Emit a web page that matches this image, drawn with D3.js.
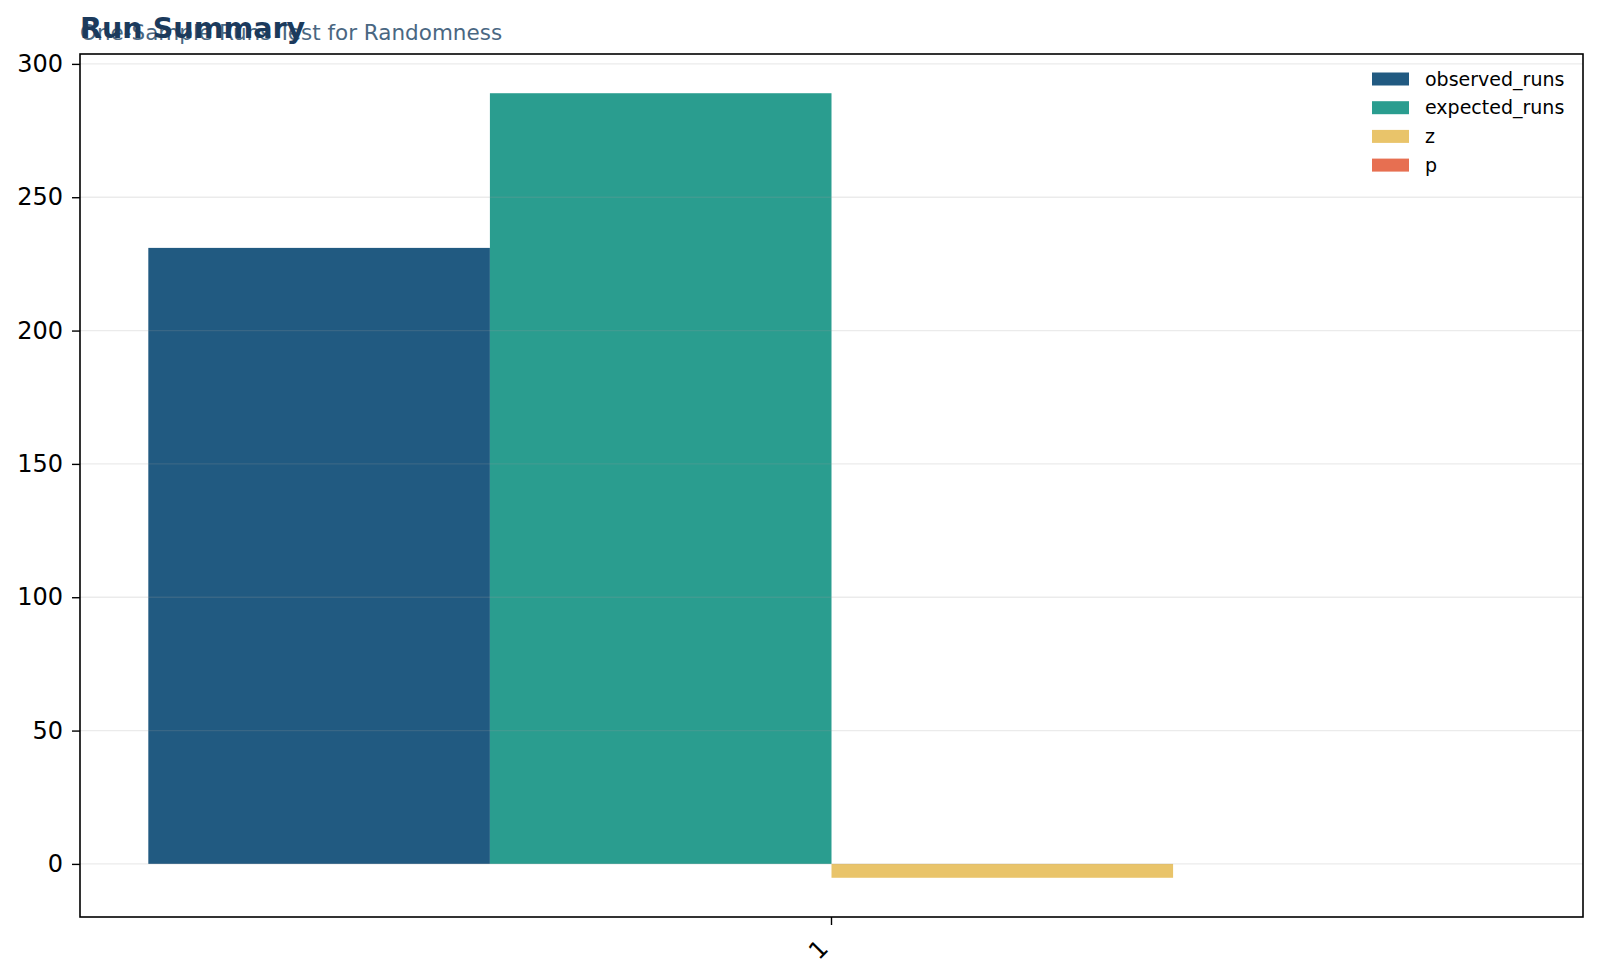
<!DOCTYPE html>
<html>
<head>
<meta charset="utf-8">
<script src="https://cdn.jsdelivr.net/npm/d3@7"></script>
<style>
  html, body { margin: 0; padding: 0; background: #ffffff; }
  svg { display: block; font-family: "DejaVu Sans", sans-serif; }
</style>
</head>
<body>
<svg id="chart" width="1600" height="978"></svg>
<script>
// ---- data ----
const categories = ["1"];
const seriesNames = ["observed_runs", "expected_runs", "z", "p"];
const observedRuns = [231];
const expectedRuns = [289];
const zValues = [-5.2];
const pValues = [0.0000002];
const seriesColors = ["#215a81", "#2a9d8f", "#e9c46a", "#e76f51"];
const yTickValues = [0, 50, 100, 150, 200, 250, 300];
const titleText = "Run Summary";
const subtitleText = "One-Sample Runs Test for Randomness";

const seriesValues = [observedRuns, expectedRuns, zValues, pValues];

// ---- layout ----
const W = 1600, H = 978;
const margin = { top: 54, right: 17, bottom: 61, left: 80 };
const iw = W - margin.left - margin.right;
const ih = H - margin.top - margin.bottom;

const svg = d3.select("#chart");
const g = svg.append("g").attr("transform", `translate(${margin.left},${margin.top})`);

// y domain with 5% padding like matplotlib autoscale
const allVals = seriesValues.flat().concat([0]);
const yMin = d3.min(allVals), yMax = d3.max(allVals);
const pad = (yMax - yMin) * 0.05;
const y = d3.scaleLinear().domain([yMin - pad, yMax + pad]).range([ih, 0]);

const x = d3.scaleBand().domain(categories).range([0, iw]).paddingInner(0).paddingOuter(0.05);
const xs = d3.scaleBand().domain(seriesNames).range([0, x.bandwidth()]).padding(0);

// bars
const rows = [];
categories.forEach((c, ci) => {
  seriesNames.forEach((s, si) => {
    rows.push({ cat: c, series: s, value: seriesValues[si][ci], color: seriesColors[si] });
  });
});

g.append("g").selectAll("rect").data(rows).join("rect")
  .attr("x", d => x(d.cat) + xs(d.series))
  .attr("width", xs.bandwidth())
  .attr("y", d => y(Math.max(0, d.value)))
  .attr("height", d => Math.abs(y(d.value) - y(0)))
  .attr("fill", d => d.color);

// grid (drawn over bars, faint)
g.append("g").selectAll("line").data(yTickValues).join("line")
  .attr("x1", 0).attr("x2", iw)
  .attr("y1", d => y(d)).attr("y2", d => y(d))
  .attr("stroke", "#9b9b9b").attr("stroke-opacity", 0.2).attr("stroke-width", 1.3);

// y axis
const yAxis = g.append("g")
  .call(d3.axisLeft(y).tickValues(yTickValues).tickSize(8).tickPadding(9).tickFormat(d3.format("d")));
yAxis.select(".domain").remove();
yAxis.selectAll(".tick line").attr("stroke", "#000").attr("stroke-width", 1.4);
yAxis.selectAll(".tick text").attr("font-size", "24px").attr("fill", "#000")
  .attr("font-family", "DejaVu Sans, sans-serif");

// x axis
const xAxis = g.append("g").attr("transform", `translate(0,${ih})`)
  .call(d3.axisBottom(x).tickSize(8).tickPadding(6));
xAxis.select(".domain").remove();
xAxis.selectAll(".tick line").attr("stroke", "#000").attr("stroke-width", 1.4);
xAxis.selectAll(".tick text")
  .attr("font-size", "24px").attr("fill", "#000")
  .attr("font-family", "DejaVu Sans, sans-serif")
  .attr("text-anchor", "end")
  .attr("dy", "0")
  .attr("y", 0)
  .attr("transform", "translate(-2,33) rotate(-45)");

// frame
g.append("rect").attr("x", 0).attr("y", 0).attr("width", iw).attr("height", ih)
  .attr("fill", "none").attr("stroke", "#000").attr("stroke-width", 1.6);

// titles
svg.append("text").attr("x", 80).attr("y", 40)
  .attr("font-size", "21.5px").attr("fill", "#4a6782")
  .attr("font-family", "DejaVu Sans, sans-serif")
  .text(subtitleText);
svg.append("text").attr("x", 80).attr("y", 37.5)
  .attr("font-size", "28.6px").attr("font-weight", "bold").attr("fill", "#1b3a5c")
  .attr("font-family", "DejaVu Sans, sans-serif")
  .text(titleText);

// legend
const legend = svg.append("g");
const legItems = legend.selectAll("g").data(seriesNames).join("g")
  .attr("transform", (d, i) => `translate(1372,${79 + i * 28.7})`);
legItems.append("rect").attr("x", 0).attr("y", -6.5).attr("width", 37).attr("height", 13)
  .attr("fill", (d, i) => seriesColors[i]);
legItems.append("text").attr("x", 53).attr("y", 0).attr("dy", "0.35em")
  .attr("font-size", "19px").attr("fill", "#000")
  .attr("font-family", "DejaVu Sans, sans-serif")
  .text(d => d);
</script>
</body>
</html>
